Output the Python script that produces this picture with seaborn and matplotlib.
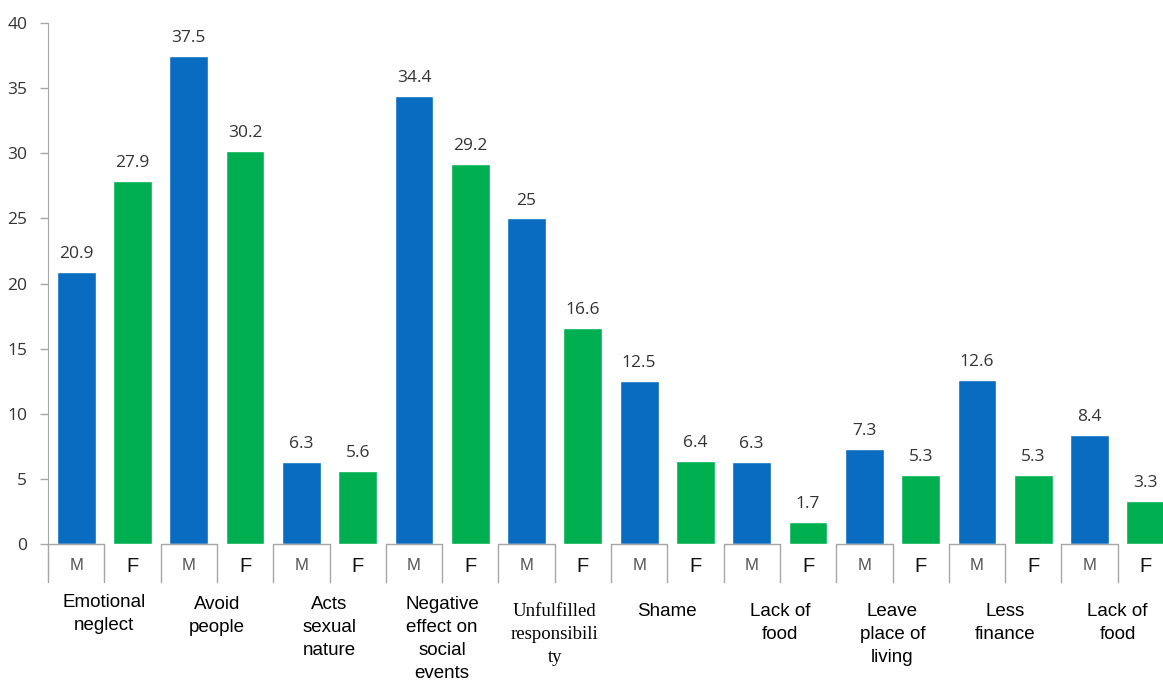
import matplotlib
matplotlib.use("Agg")
import matplotlib.pyplot as plt
import matplotlib.transforms as mtransforms
import pandas as pd
import seaborn as sns

# ---- data ----
categories = [
    "Emotional\nneglect", "Avoid\npeople", "Acts\nsexual\nnature",
    "Negative\neffect on\nsocial\nevents", "Unfulfilled\nresponsibili\nty",
    "Shame", "Lack of\nfood", "Leave\nplace of\nliving", "Less\nfinance",
    "Lack of\nfood",
]
male = [20.9, 37.5, 6.3, 34.4, 25, 12.5, 6.3, 7.3, 12.6, 8.4]
female = [27.9, 30.2, 5.6, 29.2, 16.6, 6.4, 1.7, 5.3, 5.3, 3.3]
sexes = ["M", "F"]
y_ticks = [0, 5, 10, 15, 20, 25, 30, 35, 40]

# pixel row (from top) where each category label's first line sits
label_rows = [602, 604, 604, 604, 611, 611, 611, 611, 611, 611]

BLUE = "#0a6cc0"
GREEN = "#00b050"
GRID = "#a6a6a6"

rows = []
for i, cat in enumerate(categories):
    rows.append({"slot": f"{i}M", "sex": "M", "value": male[i]})
    rows.append({"slot": f"{i}F", "sex": "F", "value": female[i]})
df = pd.DataFrame(rows)

sns.set_style("white")
plt.rcParams["font.family"] = ["Open Sans", "DejaVu Sans"]

W, H = 1163, 684
AX_BOTTOM, AX_H = 544, 521
fig = plt.figure(figsize=(W / 100, H / 100), dpi=100)
# slots are ~56.3px wide; the last bar runs off the right edge
ax = fig.add_axes([48 / W, (H - AX_BOTTOM) / H, 1126 / W, AX_H / H])

sns.barplot(data=df, x="slot", y="value", hue="sex", hue_order=sexes,
            palette={"M": BLUE, "F": GREEN}, dodge=False, width=0.69,
            saturation=1, legend=False, ax=ax)

ax.set_xlim(-0.5, len(df) - 0.5)
ax.set_ylim(0, 40)
ax.set_yticks(y_ticks)
ax.set_yticklabels([str(t) for t in y_ticks], fontsize=12.5, color="#333333")
ax.tick_params(axis="y", length=6, width=1, color=GRID, pad=9, left=True)
ax.set_xticks([])
ax.set_xlabel("")
ax.set_ylabel("")
for side in ["top", "right", "bottom"]:
    ax.spines[side].set_visible(False)
ax.spines["left"].set_color(GRID)

for cont in ax.containers:
    ax.bar_label(cont, labels=[f"{v:g}" for v in cont.datavalues],
                 padding=7, fontsize=12.5, color="#333333")

# ---- M / F table under the axis ----
trans = mtransforms.blended_transform_factory(ax.transData, ax.transAxes)


def px(row):
    """pixel row below the figure top -> axes fraction"""
    return (AX_BOTTOM - row) / AX_H


for i, cat in enumerate(categories):
    xm, xf = 2 * i, 2 * i + 1
    for xe in (xm - 0.5, xm + 0.5):
        ax.plot([xe, xe], [0, px(582)], transform=trans, color=GRID,
                lw=1, clip_on=False)
    ax.plot([xm - 0.5, xm + 0.5], [0, 0], transform=trans, color=GRID,
            lw=1, clip_on=False)
    ax.text(xm, px(566), "M", transform=trans, ha="center", va="center",
            fontsize=12, color="#555555", family=["Liberation Sans"])
    ax.text(xf, px(566), "F", transform=trans, ha="center", va="center",
            fontsize=14.5, color="#111111", family=["Liberation Sans"])
    serif = cat.startswith("Unfulfilled")
    ax.text(i * 2 + 0.5, px(label_rows[i] - 8), cat, transform=trans,
            ha="center", va="top", linespacing=1.45,
            color="black", fontsize=13.5,
            family=["Liberation Serif"] if serif else ["Liberation Sans"])

fig.savefig("out.png", dpi=100)
